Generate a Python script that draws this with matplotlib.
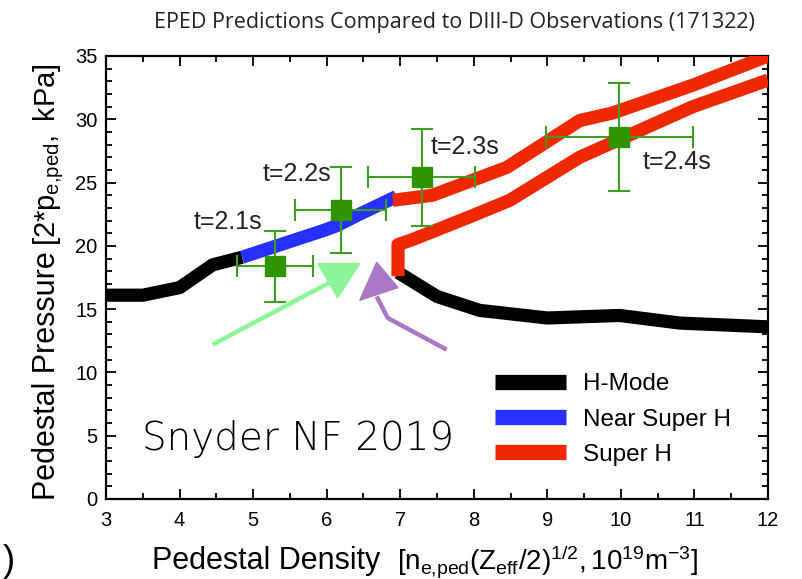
import matplotlib
matplotlib.use("Agg")
import matplotlib.pyplot as plt
from matplotlib.patches import Polygon
from matplotlib.ticker import MultipleLocator

# EPED model curves: pedestal density vs pedestal pressure
hmode_left_x = [3.0, 3.5, 4.0, 4.45, 4.85]
hmode_left_y = [16.1, 16.1, 16.7, 18.5, 19.1]
hmode_right_x = [6.97, 7.5, 8.08, 9.0, 9.98, 10.8, 12.0]
hmode_right_y = [17.9, 16.0, 14.9, 14.3, 14.5, 13.9, 13.6]
near_x = [4.85, 5.95, 6.14, 6.41, 6.95]
near_y = [19.1, 21.2, 21.6, 22.4, 23.9]
super_up_x = [6.9, 7.44, 8.45, 9.44, 9.89, 10.98, 12.0]
super_up_y = [23.6, 24.0, 26.2, 29.9, 30.5, 32.7, 35.0]
super_lo_x = [6.97, 6.97, 7.17, 7.99, 8.49, 9.44, 10.98, 12.0]
super_lo_y = [17.6, 20.1, 20.5, 22.4, 23.6, 27.0, 31.0, 33.1]

# DIII-D 171322 measurements
obs_t = ["t=2.1s", "t=2.2s", "t=2.3s", "t=2.4s"]
obs_n = [5.30, 6.19, 7.29, 9.98]
obs_p = [18.4, 22.8, 25.4, 28.6]
obs_nerr = [0.52, 0.62, 0.73, 1.0]
obs_perr = [2.8, 3.4, 3.8, 4.3]
obs_label_xy = [(4.66, 21.9), (5.60, 25.7), (7.88, 27.8), (10.76, 26.6)]

# annotation arrows
green_shaft = [(4.45, 12.2), (6.04, 17.1)]
green_head = [(5.88, 18.6), (6.45, 18.6), (6.15, 15.9)]
purple_shaft = [(7.63, 11.8), (6.83, 14.3), (6.68, 16.0)]
purple_head = [(6.45, 15.7), (6.68, 18.7), (6.97, 16.7)]

plt.rcParams['font.family'] = ['Liberation Sans', 'DejaVu Sans']
plt.rcParams['mathtext.fontset'] = 'custom'
plt.rcParams['mathtext.rm'] = 'Liberation Sans'
plt.rcParams['mathtext.it'] = 'Liberation Sans'
plt.rcParams['mathtext.bf'] = 'Liberation Sans:bold'

BLACK = "#000000"
BLUE = "#2630ff"
RED = "#f02800"
GREEN = "#2f9400"
LW = 9.5

fig = plt.figure(figsize=(8.02, 5.79), dpi=100)
ax = fig.add_axes([0.1322, 0.1382, 0.8254, 0.7651])

ax.plot(hmode_left_x, hmode_left_y, color=BLACK, lw=LW, solid_capstyle='butt', zorder=2, label="H-Mode")
ax.plot(hmode_right_x, hmode_right_y, color=BLACK, lw=LW, solid_capstyle='butt', zorder=2)
ax.plot(near_x, near_y, color=BLUE, lw=LW, solid_capstyle='butt', zorder=3, label="Near Super H")
ax.plot(super_up_x, super_up_y, color=RED, lw=LW, solid_capstyle='butt', zorder=4, label="Super H")
ax.plot(super_lo_x, super_lo_y, color=RED, lw=LW, solid_capstyle='butt', zorder=4)

ax.errorbar(obs_n, obs_p, xerr=obs_nerr, yerr=obs_perr, fmt='s', color=GREEN,
            ecolor="#3f9e22", elinewidth=1.5, capsize=8, capthick=1.5,
            ms=14, mec=GREEN, zorder=6)
for lab, (tx, ty) in zip(obs_t, obs_label_xy):
    ax.text(tx, ty, lab, fontsize=18, ha='center', va='center', color="#222222", zorder=7)

# arrows pointing at the transition
gx, gy = zip(*green_shaft)
ax.plot(gx, gy, color="#8cf59a", lw=3.2, solid_capstyle='butt', zorder=5)
ax.add_patch(Polygon(green_head, closed=True, color="#8cf59a", zorder=5))
px, py = zip(*purple_shaft)
ax.plot(px, py, color="#a977c4", lw=3.2, solid_capstyle='butt', zorder=5)
ax.add_patch(Polygon(purple_head, closed=True, color="#a977c4", zorder=5))

ax.text(0.055, 0.11, "Snyder NF 2019", transform=ax.transAxes, fontsize=28,
        family=['DejaVu Sans'], fontweight='light', color="#000000", zorder=7)

ax.set_xlim(3, 12)
ax.set_ylim(0, 35)
ax.xaxis.set_major_locator(MultipleLocator(1))
ax.xaxis.set_minor_locator(MultipleLocator(0.5))
ax.yaxis.set_major_locator(MultipleLocator(5))
ax.yaxis.set_minor_locator(MultipleLocator(1))
ax.tick_params(which='both', direction='in', top=True, right=True, width=1.3, labelsize=14.5)
ax.tick_params(which='major', length=7)
ax.tick_params(which='minor', length=4)
ax.tick_params(axis='x', which='major', pad=9)
ax.tick_params(axis='y', which='major', pad=6)
for s in ax.spines.values():
    s.set_linewidth(1.6)

leg = ax.legend(loc='upper left', bbox_to_anchor=(0.588, 0.284), frameon=False,
                fontsize=17.5, handlelength=2.9, handletextpad=0.7, labelspacing=0.55,
                borderpad=0, borderaxespad=0)
for h in leg.get_lines():
    h.set_linewidth(11)

fig.text(454 / 802, 0.962, "EPED Predictions Compared to DIII-D Observations (171322)",
         ha='center', va='center', fontsize=15.5, family=['Open Sans', 'DejaVu Sans'], color="#222222")

fig.text(152 / 802, 1 - 569 / 579, "Pedestal Density", fontsize=22, ha='left', va='baseline')
fig.text(397 / 802, 1 - 569 / 579, r"$[n_{\text{e,ped}}(Z_{\text{eff}}/2)^{1/2},10^{19}\text{m}^{-3}]$",
         fontsize=20, ha='left', va='baseline')
fig.text(55 / 802, 1 - 500 / 579, "Pedestal Pressure", fontsize=22, rotation=90,
         rotation_mode='anchor', ha='left', va='baseline')
fig.text(55 / 802, 1 - 246 / 579, r"$[2$*$p_{\text{e,ped}},\ \text{kPa}]$", fontsize=21, rotation=90,
         rotation_mode='anchor', ha='left', va='baseline')

fig.text(0.003, 0.0, ")", fontsize=26, ha='left', va='bottom')

fig.savefig("out.png", dpi=100)
